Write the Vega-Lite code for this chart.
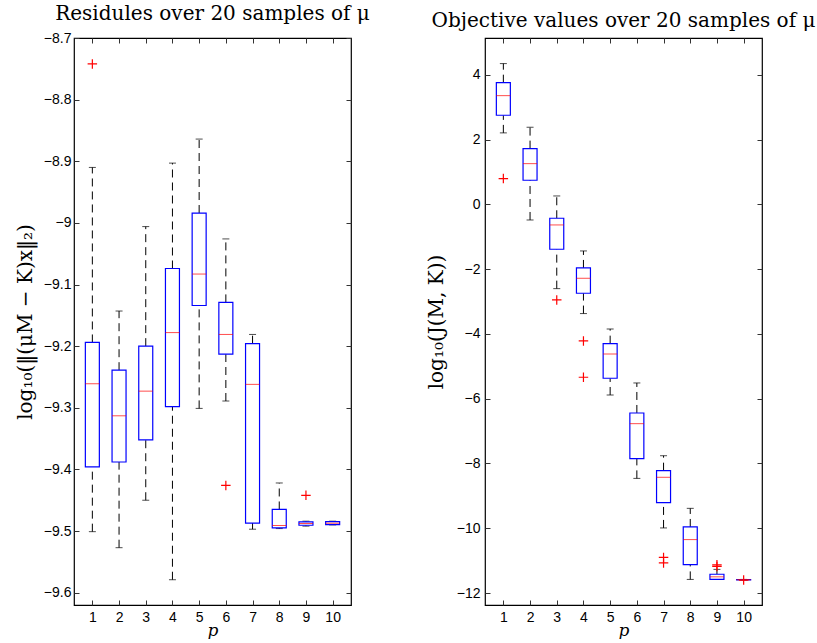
{
  "$schema": "https://vega.github.io/schema/vega-lite/v6.json",
  "padding": {"left": 14, "top": 3, "right": 0, "bottom": 0},
  "background": "white",
  "spacing": 54,
  "config": {
    "view": {"stroke": "black", "strokeWidth": 1.2},
    "axis": {
      "domain": false, "grid": false, "tickColor": "#333", "tickSize": -5,
      "labelFont": "Liberation Sans", "labelFontSize": 14, "labelColor": "black",
      "titleFont": "DejaVu Serif", "titleFontWeight": "normal", "titleColor": "black"
    },
    "title": {"font": "DejaVu Serif", "fontSize": 20, "fontWeight": "normal", "color": "black", "offset": 7}
  },
  "datasets": {
    "L": [
      {"p": 1, "lo": -9.501, "q1": -9.396, "med": -9.261, "q3": -9.194, "hi": -8.910},
      {"p": 2, "lo": -9.527, "q1": -9.388, "med": -9.313, "q3": -9.239, "hi": -9.143},
      {"p": 3, "lo": -9.450, "q1": -9.352, "med": -9.273, "q3": -9.200, "hi": -9.006},
      {"p": 4, "lo": -9.579, "q1": -9.298, "med": -9.178, "q3": -9.074, "hi": -8.903},
      {"p": 5, "lo": -9.301, "q1": -9.134, "med": -9.083, "q3": -8.984, "hi": -8.864},
      {"p": 6, "lo": -9.289, "q1": -9.213, "med": -9.181, "q3": -9.129, "hi": -9.026},
      {"p": 7, "lo": -9.497, "q1": -9.487, "med": -9.262, "q3": -9.196, "hi": -9.181},
      {"p": 8, "lo": -9.496, "q1": -9.495, "med": -9.491, "q3": -9.465, "hi": -9.422},
      {"p": 9, "lo": -9.492, "q1": -9.4906, "med": -9.4878, "q3": -9.485, "hi": -9.484},
      {"p": 10, "lo": -9.490, "q1": -9.4895, "med": -9.4873, "q3": -9.4846, "hi": -9.484}
    ],
    "LO": [
      {"p": 1, "v": -8.742},
      {"p": 6, "v": -9.426},
      {"p": 9, "v": -9.442}
    ],
    "R": [
      {"p": 1, "lo": 2.21, "q1": 2.755, "med": 3.36, "q3": 3.76, "hi": 4.35},
      {"p": 2, "lo": -0.48, "q1": 0.747, "med": 1.26, "q3": 1.724, "hi": 2.384},
      {"p": 3, "lo": -2.60, "q1": -1.384, "med": -0.633, "q3": -0.427, "hi": 0.262},
      {"p": 4, "lo": -3.37, "q1": -2.743, "med": -2.28, "q3": -1.961, "hi": -1.436},
      {"p": 5, "lo": -5.884, "q1": -5.368, "med": -4.618, "q3": -4.299, "hi": -3.846},
      {"p": 6, "lo": -8.46, "q1": -7.85, "med": -6.77, "q3": -6.44, "hi": -5.513},
      {"p": 7, "lo": -9.99, "q1": -9.21, "med": -8.426, "q3": -8.222, "hi": -7.76},
      {"p": 8, "lo": -11.58, "q1": -11.126, "med": -10.35, "q3": -9.96, "hi": -9.385},
      {"p": 9, "lo": -11.58, "q1": -11.58, "med": -11.5, "q3": -11.42, "hi": -11.27},
      {"p": 10, "lo": -11.6, "q1": -11.595, "med": -11.59, "q3": -11.585, "hi": -11.58}
    ],
    "RO": [
      {"p": 1, "v": 0.80},
      {"p": 3, "v": -2.95},
      {"p": 4, "v": -4.216},
      {"p": 4, "v": -5.337},
      {"p": 7, "v": -10.9},
      {"p": 7, "v": -11.07},
      {"p": 9, "v": -11.13},
      {"p": 9, "v": -11.18},
      {"p": 10, "v": -11.6}
    ]
  },
  "hconcat": [
    {
      "width": 277, "height": 567,
      "title": "Residules over 20 samples of μ",
      "resolve": {"axis": {"x": "independent", "y": "independent"}},
      "layer": [
        {
          "data": {"name": "L"},
          "encoding": {
            "x": {"field": "p", "type": "quantitative", "scale": {"domain": [0.5, 10.5], "nice": false, "zero": false},
                  "axis": {"values": [1,2,3,4,5,6,7,8,9,10], "title": "p", "titleFontStyle": "italic", "titleFontSize": 17, "titlePadding": -2, "labelPadding": 10}}
          },
          "layer": [
            {"mark": {"type": "rule", "color": "black", "strokeDash": [8, 5], "strokeWidth": 1},
             "encoding": {"y": {"field": "q3", "type": "quantitative", "scale": {"domain": [-9.62, -8.7], "nice": false, "zero": false},
                          "axis": {"values": [-9.6,-9.5,-9.4,-9.3,-9.2,-9.1,-9,-8.9,-8.8,-8.7], "format": "~g", "title": "log₁₀(‖(μM − K)x‖₂)", "titleFontSize": 20, "titlePadding": 8, "labelPadding": 8}},
                          "y2": {"field": "hi"}}},
            {"mark": {"type": "rule", "color": "black", "strokeDash": [8, 5], "strokeWidth": 1},
             "encoding": {"y": {"field": "lo", "type": "quantitative"}, "y2": {"field": "q1"}}},
            {"mark": {"type": "tick", "orient": "horizontal", "color": "black", "size": 7, "thickness": 1},
             "encoding": {"y": {"field": "hi", "type": "quantitative"}}},
            {"mark": {"type": "tick", "orient": "horizontal", "color": "black", "size": 7, "thickness": 1},
             "encoding": {"y": {"field": "lo", "type": "quantitative"}}},
            {"mark": {"type": "bar", "size": 14, "fill": "white", "stroke": "#0000ff", "strokeWidth": 1.2},
             "encoding": {"y": {"field": "q1", "type": "quantitative"}, "y2": {"field": "q3"}}},
            {"mark": {"type": "tick", "orient": "horizontal", "color": "#ff0000", "size": 14, "thickness": 1},
             "encoding": {"y": {"field": "med", "type": "quantitative"}}},
            {"data": {"name": "LO"},
             "mark": {"type": "point", "shape": "M-1,0H1M0,-1V1", "filled": false, "stroke": "#ff0000", "strokeWidth": 1.2, "size": 90, "opacity": 1},
             "encoding": {"y": {"field": "v", "type": "quantitative"}}}
          ]
        },
        {
          "data": {"name": "L"},
          "mark": {"type": "tick", "opacity": 0},
          "encoding": {
            "x": {"field": "p", "type": "quantitative", "scale": {"domain": [0.5, 10.5], "nice": false, "zero": false},
                  "axis": {"orient": "top", "values": [1,2,3,4,5,6,7,8,9,10], "labels": false, "title": null}},
            "y": {"field": "med", "type": "quantitative", "scale": {"domain": [-9.62, -8.7], "nice": false, "zero": false},
                  "axis": {"orient": "right", "values": [-9.6,-9.5,-9.4,-9.3,-9.2,-9.1,-9,-8.9,-8.8,-8.7], "labels": false, "title": null}}
          }
        }
      ]
    },
    {
      "width": 277, "height": 567,
      "title": "Objective values over 20 samples of μ",
      "resolve": {"axis": {"x": "independent", "y": "independent"}},
      "layer": [
        {
          "data": {"name": "R"},
          "encoding": {
            "x": {"field": "p", "type": "quantitative", "scale": {"domain": [0.5, 10.5], "nice": false, "zero": false},
                  "axis": {"values": [1,2,3,4,5,6,7,8,9,10], "title": "p", "titleFontStyle": "italic", "titleFontSize": 17, "titlePadding": -2, "labelPadding": 10}}
          },
          "layer": [
            {"mark": {"type": "rule", "color": "black", "strokeDash": [8, 5], "strokeWidth": 1},
             "encoding": {"y": {"field": "q3", "type": "quantitative", "scale": {"domain": [-12.37, 5.14], "nice": false, "zero": false},
                          "axis": {"values": [-12,-10,-8,-6,-4,-2,0,2,4], "title": "log₁₀(J(M, K))", "titleFontSize": 20, "titlePadding": 10, "labelPadding": 10}},
                          "y2": {"field": "hi"}}},
            {"mark": {"type": "rule", "color": "black", "strokeDash": [8, 5], "strokeWidth": 1},
             "encoding": {"y": {"field": "lo", "type": "quantitative"}, "y2": {"field": "q1"}}},
            {"mark": {"type": "tick", "orient": "horizontal", "color": "black", "size": 7, "thickness": 1},
             "encoding": {"y": {"field": "hi", "type": "quantitative"}}},
            {"mark": {"type": "tick", "orient": "horizontal", "color": "black", "size": 7, "thickness": 1},
             "encoding": {"y": {"field": "lo", "type": "quantitative"}}},
            {"mark": {"type": "bar", "size": 14, "fill": "white", "stroke": "#0000ff", "strokeWidth": 1.2},
             "encoding": {"y": {"field": "q1", "type": "quantitative"}, "y2": {"field": "q3"}}},
            {"mark": {"type": "tick", "orient": "horizontal", "color": "#ff0000", "size": 14, "thickness": 1},
             "encoding": {"y": {"field": "med", "type": "quantitative"}}},
            {"data": {"name": "RO"},
             "mark": {"type": "point", "shape": "M-1,0H1M0,-1V1", "filled": false, "stroke": "#ff0000", "strokeWidth": 1.2, "size": 90, "opacity": 1},
             "encoding": {"y": {"field": "v", "type": "quantitative"}}}
          ]
        },
        {
          "data": {"name": "R"},
          "mark": {"type": "tick", "opacity": 0},
          "encoding": {
            "x": {"field": "p", "type": "quantitative", "scale": {"domain": [0.5, 10.5], "nice": false, "zero": false},
                  "axis": {"orient": "top", "values": [1,2,3,4,5,6,7,8,9,10], "labels": false, "title": null}},
            "y": {"field": "med", "type": "quantitative", "scale": {"domain": [-12.37, 5.14], "nice": false, "zero": false},
                  "axis": {"orient": "right", "values": [-12,-10,-8,-6,-4,-2,0,2,4], "labels": false, "title": null}}
          }
        }
      ]
    }
  ]
}
